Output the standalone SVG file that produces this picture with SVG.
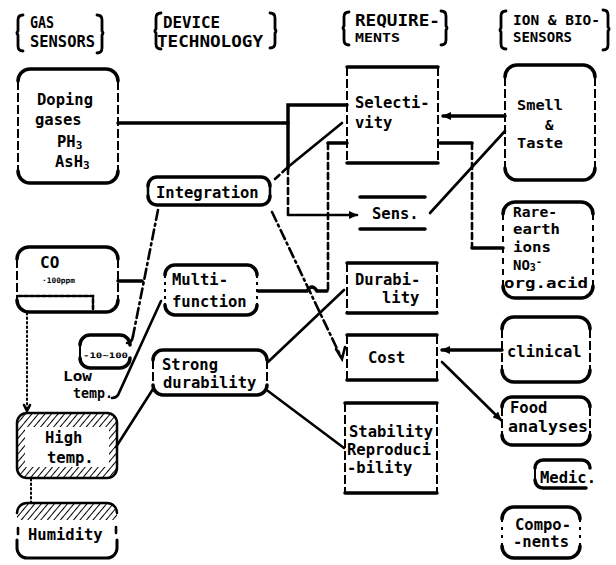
<svg xmlns="http://www.w3.org/2000/svg" width="616" height="565" viewBox="0 0 616 565">
<style>
.t{font-family:"DejaVu Sans Mono","Liberation Mono",monospace;font-weight:bold;font-size:15.5px;fill:#000}
.h{font-size:16px}
.r{font-size:14px}
.sm{font-size:7.5px}
.e{stroke:#000;stroke-width:3.5;fill:none;stroke-linecap:round}
.s{stroke:#000;stroke-width:2;fill:none;stroke-dasharray:9 3}
.ln{stroke:#000;stroke-width:2.6;fill:none;stroke-linecap:round}
.tk{stroke-width:3.5}
.da{stroke-dasharray:6 4}
.dd{stroke-dasharray:10 4 2 4}
.do{stroke-dasharray:1.5 3;stroke-width:2}
.br{stroke:#000;stroke-width:2.8;fill:none;stroke-linecap:round}
</style>
<defs>
<marker id="ar" markerUnits="userSpaceOnUse" markerWidth="9" markerHeight="8" refX="8" refY="4" orient="auto">
<path d="M0,0 L9,4 L0,8 z" fill="#000"/>
</marker>
<pattern id="hatch" width="5" height="5" patternUnits="userSpaceOnUse" patternTransform="rotate(40)">
<line x1="0" y1="0" x2="0" y2="5" stroke="#000" stroke-width="2"/>
</pattern>
</defs>
<rect width="616" height="565" fill="#fff"/>

<g id="headers">
<path class="br" d="M23,15 Q18,15 18,20 V31 Q16,33 18,35 V46 Q18,51 23,51"/>
<path class="br" d="M97,15 Q102,15 102,20 V31 Q104,33 102,35 V48 Q102,53 97,53"/>
<text class="t h" x="30" y="28" textLength="24" lengthAdjust="spacingAndGlyphs">GAS</text>
<text class="t h" x="30" y="47" textLength="65" lengthAdjust="spacingAndGlyphs">SENSORS</text>
<path class="br" d="M161,13 Q156,13 156,18 V29 Q154,31 156,33 V44 Q156,49 161,49"/>
<path class="br" d="M270,13 Q275,13 275,18 V29 Q277,31 275,33 V43 Q275,48 270,48"/>
<text class="t h" x="163" y="28" textLength="57" lengthAdjust="spacingAndGlyphs">DEVICE</text>
<text class="t h" x="157" y="47" textLength="106" lengthAdjust="spacingAndGlyphs">TECHNOLOGY</text>
<path class="br" d="M349,12 Q344,12 344,17 V26 Q342,28 344,30 V40 Q344,45 349,45"/>
<path class="br" d="M441,11 Q446,11 446,16 V26 Q448,28 446,30 V40 Q446,45 441,45"/>
<text class="t h" x="355" y="26" textLength="85" lengthAdjust="spacingAndGlyphs" style="font-size:15px">REQUIRE-</text>
<text class="t h" x="355" y="42" textLength="45" lengthAdjust="spacingAndGlyphs" style="font-size:13px">MENTS</text>
<path class="br" d="M506,11 Q501,11 501,16 V28 Q499,30 501,32 V44 Q501,49 506,49"/>
<path class="br" d="M603,10 Q608,10 608,15 V27 Q610,29 608,31 V45 Q608,50 603,50"/>
<text class="t h" x="513" y="25" textLength="87" lengthAdjust="spacingAndGlyphs" style="font-size:14px">ION &amp; BIO-</text>
<text class="t h" x="513" y="42" textLength="59" lengthAdjust="spacingAndGlyphs" style="font-size:14px">SENSORS</text>
</g>

<g id="connectors">
<path class="ln tk" d="M118,123 H288"/>
<path class="ln tk" d="M347,105 H288 V168"/>
<path class="ln da" d="M288,168 V215"/>
<path class="ln" d="M288,215 H357" marker-end="url(#ar)"/>
<path class="ln da" d="M275,179 L288,167"/>
<path class="ln" d="M288,167 L342,123"/>
<path class="ln tk" d="M347,143 H328"/>
<path class="ln da" d="M328,143 V290"/>
<path class="ln tk" d="M258,291 H307 Q312,283 317,291 H327"/>
<path class="ln dd" d="M272,212 L341,357"/>
<path class="ln" d="M336,349 L342,359 L345,347"/>
<path class="ln dd" d="M158,210 L133,336"/>
<path class="ln" d="M133,336 Q132,343 127,343"/>
<path class="ln tk" d="M118,281 H142"/>
<path class="ln" d="M161,301 L118,395 Q116,398 112,398"/>
<path class="ln" d="M268,362 L344,290"/>
<path class="ln" d="M268,391 L344,448"/>
<path class="ln" d="M153,389 L116,447"/>
<path class="ln tk" d="M505,116 H443" marker-end="url(#ar)"/>
<path class="ln tk" d="M440,143 H472"/>
<path class="ln da" d="M472,143 V248"/>
<path class="ln tk" d="M472,248 H503"/>
<path class="ln" d="M430,213 L505,131"/>
<path class="ln tk" d="M502,350 H442" marker-end="url(#ar)"/>
<path class="ln" d="M442,362 L501,420" marker-end="url(#ar)"/>
<path class="ln do" d="M27,313 V410"/>
<path class="ln" d="M24,405 L27,411 L30,405"/>
<path class="ln do" d="M31,479 V502"/>
</g>

<g id="doping">
<path class="e" d="M18,81 A12,12 0 0 1 30,69 H106 A12,12 0 0 1 118,81"/>
<path class="e" d="M18,171 A12,12 0 0 0 30,183 H106 A12,12 0 0 0 118,171"/>
<path class="s" d="M18,81 V171 M118,81 V171"/>
<text class="t" x="37" y="105">Doping</text>
<text class="t" x="35" y="125">gases</text>
<text class="t" x="57" y="147">PH<tspan style="font-size:11px" dy="2">3</tspan></text>
<text class="t" x="55" y="167">AsH<tspan style="font-size:11px" dy="2">3</tspan></text>
</g>

<g id="co">
<path class="e" d="M17,259 A12,12 0 0 1 29,247 H106 A12,12 0 0 1 118,259"/>
<path class="e" d="M17,300 A12,12 0 0 0 29,312 H106 A12,12 0 0 0 118,300"/>
<path class="s" d="M17,259 V300 M118,259 V300"/>
<path class="ln" d="M18,296 H93 V311" style="stroke-dasharray:4 2"/>
<text class="t" x="40" y="268" style="font-size:16px">CO</text>
<text class="t sm" x="42" y="283" textLength="33" lengthAdjust="spacingAndGlyphs">·100ppm</text>
</g>

<g id="integration">
<path class="e" d="M148,186 A9,9 0 0 1 157,177 H261 A9,9 0 0 1 270,186"/>
<path class="e" d="M148,196 A9,9 0 0 0 157,205 H261 A9,9 0 0 0 270,196"/>
<path class="s" d="M148,186 V196 M270,186 V196" style="stroke-dasharray:none;stroke-width:2.5"/>
<text class="t" x="156" y="198">Integration</text>
</g>

<g id="lowtemp">
<path class="e" d="M80,345 A10,10 0 0 1 90,335 H120 A10,10 0 0 1 130,345"/>
<path class="e" d="M80,358 A10,10 0 0 0 90,368 H120 A10,10 0 0 0 130,358"/>
<path class="s" d="M80,345 V358" style="stroke-dasharray:none"/>
<text class="t sm" x="83" y="358" textLength="45" lengthAdjust="spacingAndGlyphs">-10~100</text>
<text class="t r" x="63" y="381" textLength="29" lengthAdjust="spacingAndGlyphs">Low</text>
<text class="t r" x="73" y="398" textLength="40" lengthAdjust="spacingAndGlyphs">temp.</text>
</g>

<g id="multifunction">
<path class="e" d="M165,275 A10,10 0 0 1 175,265 H247 A10,10 0 0 1 257,275"/>
<path class="e" d="M165,305 A10,10 0 0 0 175,315 H247 A10,10 0 0 0 257,305"/>
<path class="s" d="M165,275 V305 M257,275 V305" style="stroke-dasharray:3 4"/>
<text class="t" x="172" y="285">Multi-</text>
<text class="t" x="172" y="307">function</text>
</g>

<g id="strong">
<path class="e" d="M153,360 A10,10 0 0 1 163,350 H257 A10,10 0 0 1 267,360"/>
<path class="e" d="M153,385 A10,10 0 0 0 163,395 H257 A10,10 0 0 0 267,385"/>
<path class="s" d="M153,360 V385 M267,360 V385"/>
<text class="t" x="162" y="370">Strong</text>
<text class="t" x="163" y="388">durability</text>
</g>

<g id="hightemp">
<path fill="url(#hatch)" fill-rule="evenodd" d="M17,423 A10,10 0 0 1 27,413 H107 A10,10 0 0 1 117,423 V468 A10,10 0 0 1 107,478 H27 A10,10 0 0 1 17,468 Z M25,427 V467 H109 V427 Z"/>
<path class="e" d="M17,423 A10,10 0 0 1 27,413 H107 A10,10 0 0 1 117,423 V468 A10,10 0 0 1 107,478 H27 A10,10 0 0 1 17,468 Z" style="stroke-width:2.5"/>
<text class="t" x="45" y="443">High</text>
<text class="t" x="47" y="463">temp.</text>
</g>

<g id="humidity">
<path fill="url(#hatch)" d="M17,513 A10,10 0 0 1 27,503 H107 A10,10 0 0 1 117,513 V520 H17 Z"/>
<path class="e" d="M17,513 A10,10 0 0 1 27,503 H107 A10,10 0 0 1 117,513" style="stroke-width:2.5"/>
<path class="e" d="M17,540 V548 A10,10 0 0 0 27,558 H107 A10,10 0 0 0 117,548 V540" style="stroke-width:3"/>
<path class="ln" d="M18,528 V534 M116,527 V533"/>
<text class="t" x="28" y="540">Humidity</text>
</g>

<g id="selectivity">
<path class="e" d="M347,67 H438 M347,163 H438"/>
<path class="s" d="M347,67 V163 M438,67 V163"/>
<text class="t" x="355" y="108">Selecti-</text>
<text class="t" x="355" y="128">vity</text>
</g>

<g id="sens">
<path class="e" d="M360,197 H425 M360,229 H425"/>
<text class="t" x="372" y="219">Sens.</text>
</g>

<g id="durability">
<path class="e" d="M347,263 H437 M347,313 H437"/>
<path class="s" d="M347,263 V313 M437,263 V313"/>
<text class="t" x="355" y="285">Durabi-</text>
<text class="t" x="382" y="303">lity</text>
</g>

<g id="cost">
<path class="e" d="M347,335 H437 M347,380 H437"/>
<path class="s" d="M347,335 V380 M437,335 V380"/>
<text class="t" x="368" y="363">Cost</text>
</g>

<g id="stability">
<path class="e" d="M345,403 H437 M345,493 H437"/>
<path class="s" d="M345,403 V493 M437,403 V493"/>
<text class="t" x="349" y="437">Stability</text>
<text class="t" x="347" y="455">Reproduci</text>
<text class="t" x="347" y="473">-bility</text>
</g>

<g id="smell">
<path class="e" d="M505,77 A12,12 0 0 1 517,65 H583 A12,12 0 0 1 595,77"/>
<path class="e" d="M505,168 A12,12 0 0 0 517,180 H583 A12,12 0 0 0 595,168"/>
<path class="s" d="M505,77 V168 M595,77 V168"/>
<text class="t r" x="517" y="110" textLength="46" lengthAdjust="spacingAndGlyphs">Smell</text>
<text class="t r" x="545" y="130">&amp;</text>
<text class="t r" x="517" y="148" textLength="46" lengthAdjust="spacingAndGlyphs">Taste</text>
</g>

<g id="rareearth">
<path class="e" d="M503,214 A12,12 0 0 1 515,202 H581 A12,12 0 0 1 593,214"/>
<path class="e" d="M503,286 A12,12 0 0 0 515,298 H581 A12,12 0 0 0 593,286"/>
<path class="s" d="M503,214 V286 M593,214 V286" style="stroke-dasharray:6 5"/>
<text class="t r" x="513" y="217" textLength="44" lengthAdjust="spacingAndGlyphs">Rare-</text>
<text class="t r" x="513" y="234" textLength="47" lengthAdjust="spacingAndGlyphs">earth</text>
<text class="t r" x="513" y="252" textLength="38" lengthAdjust="spacingAndGlyphs">ions</text>
<text class="t r" x="513" y="270">NO<tspan style="font-size:10px" dy="1">3</tspan><tspan dy="-6" style="font-size:10px">-</tspan></text>
<text class="t r" x="504" y="288" textLength="84" lengthAdjust="spacingAndGlyphs">org.acid</text>
</g>

<g id="clinical">
<path class="e" d="M502,329 A12,12 0 0 1 514,317 H578 A12,12 0 0 1 590,329"/>
<path class="e" d="M502,370 A12,12 0 0 0 514,382 H578 A12,12 0 0 0 590,370"/>
<path class="s" d="M502,329 V370 M590,329 V370"/>
<text class="t" x="507" y="357">clinical</text>
</g>

<g id="food">
<path class="e" d="M502,407 A10,10 0 0 1 512,397 H580 A10,10 0 0 1 590,407"/>
<path class="e" d="M502,435 A10,10 0 0 0 512,445 H580 A10,10 0 0 0 590,435"/>
<path class="s" d="M502,407 V435 M590,407 V435"/>
<text class="t" x="510" y="413">Food</text>
<text class="t" x="508" y="432" textLength="80" lengthAdjust="spacingAndGlyphs">analyses</text>
</g>

<g id="medic">
<path class="e" d="M535,468 A8,8 0 0 1 543,460 H582 A8,8 0 0 1 590,468"/>
<path class="e" d="M535,480 A8,8 0 0 0 543,488 H586"/>
<path class="s" d="M535,468 V480" style="stroke-dasharray:none"/>
<text class="t" x="540" y="483">Medic.</text>
</g>

<g id="components">
<path class="e" d="M502,519 A12,12 0 0 1 514,507 H568 A12,12 0 0 1 580,519"/>
<path class="e" d="M502,546 A12,12 0 0 0 514,558 H568 A12,12 0 0 0 580,546"/>
<path class="s" d="M502,519 V546 M580,519 V546" style="stroke-dasharray:3 5"/>
<text class="t" x="515" y="530">Compo-</text>
<text class="t" x="513" y="547">-nents</text>
</g>
</svg>
